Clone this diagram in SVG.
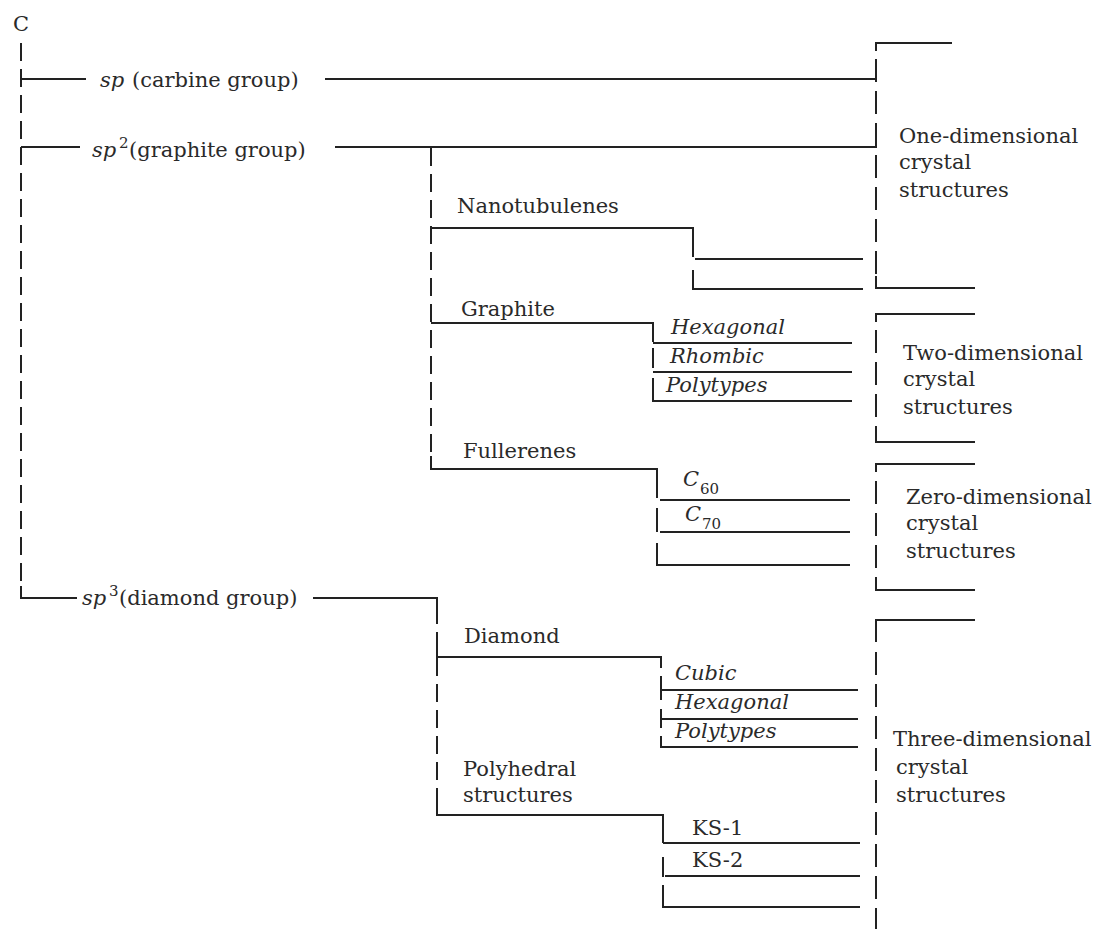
<svg xmlns="http://www.w3.org/2000/svg" width="1101" height="929" viewBox="0 0 1101 929">
<style>
text{font-family:"DejaVu Serif","Liberation Serif",serif;font-size:21px;fill:#2a2a2a}
.i{font-style:italic}
.sup{font-size:15px}
.sub{font-size:15px}
.l{fill:none;stroke:#222;stroke-width:2}
.d{fill:none;stroke:#222;stroke-width:2;stroke-dasharray:18 8}
.D{fill:none;stroke:#222;stroke-width:2;stroke-dasharray:23 9}
</style>
<rect width="1101" height="929" fill="#fff"/>
<g id="connectors">
<path class="d" d="M21 43 V588"/>
<path class="l" d="M21 586 V598 H77"/>
<path class="l" d="M21 79 H86"/>
<path class="l" d="M325 79 H877"/>
<path class="l" d="M21 147 H80"/>
<path class="l" d="M335 147 H877"/>
<path class="l" d="M313 598 H437 V606"/>
<path class="l" d="M952 43 H876 V51"/>
<path class="D" d="M876 59 V278"/>
<path class="l" d="M876 276 V288 H975"/>
<path class="d" d="M431 148 V460"/>
<path class="l" d="M431 228 H693 V257"/>
<path class="l" d="M693 270 V289 H863"/>
<path class="l" d="M695 259 H863"/>
<path class="l" d="M431 323 H653 V342"/>
<path class="l" d="M653 348 V368"/>
<path class="l" d="M653 378 V401 H852"/>
<path class="l" d="M653 343 H852"/>
<path class="l" d="M653 372 H852"/>
<path class="l" d="M431 456 V469 H657 V498"/>
<path class="l" d="M657 508 V532"/>
<path class="l" d="M657 543 V565 H850"/>
<path class="l" d="M660 500 H850"/>
<path class="l" d="M660 532 H850"/>
<path class="l" d="M975 314 H876 V322"/>
<path class="D" d="M876 330 V432"/>
<path class="l" d="M876 430 V442 H975"/>
<path class="l" d="M975 464 H876 V472"/>
<path class="D" d="M876 481 V580"/>
<path class="l" d="M876 578 V590 H975"/>
<path class="l" d="M975 620 H876 V642"/>
<path class="D" d="M876 652 V929"/>
<path class="d" d="M437 606 V805"/>
<path class="l" d="M437 804 V815 H663 V843"/>
<path class="l" d="M437 650 V657 H661 V668"/>
<path class="l" d="M661 676 V700"/>
<path class="l" d="M661 709 V728"/>
<path class="l" d="M661 736 V747 H858"/>
<path class="l" d="M661 690 H858"/>
<path class="l" d="M661 719 H858"/>
<path class="l" d="M663 843 H860"/>
<path class="l" d="M663 857 V877"/>
<path class="l" d="M663 885 V907 H860"/>
<path class="l" d="M665 876 H860"/>
</g>
<g id="node-C"><text x="13" y="31">C</text></g>
<g id="node-sp"><text x="100" y="87"><tspan class="i">sp</tspan><tspan x="132">(carbine group)</tspan></text></g>
<g id="node-sp2"><text x="92" y="157"><tspan class="i">sp</tspan><tspan class="sup" x="119" dy="-9">2</tspan><tspan x="129" dy="9">(graphite group)</tspan></text></g>
<g id="node-sp3"><text x="82" y="605"><tspan class="i">sp</tspan><tspan class="sup" x="109" dy="-9">3</tspan><tspan x="119" dy="9">(diamond group)</tspan></text></g>
<g id="node-nanotubulenes"><text x="457" y="213">Nanotubulenes</text></g>
<g id="node-graphite"><text x="461" y="316">Graphite</text></g>
<g id="node-g-hex"><text class="i" x="671" y="334">Hexagonal</text></g>
<g id="node-g-rho"><text class="i" x="670" y="363">Rhombic</text></g>
<g id="node-g-poly"><text class="i" x="666" y="392">Polytypes</text></g>
<g id="node-fullerenes"><text x="463" y="458">Fullerenes</text></g>
<g id="node-c60"><text x="683" y="486"><tspan class="i">C</tspan><tspan class="sub" x="700" y="494">60</tspan></text></g>
<g id="node-c70"><text x="685" y="521"><tspan class="i">C</tspan><tspan class="sub" x="702" y="529">70</tspan></text></g>
<g id="node-diamond"><text x="464" y="643">Diamond</text></g>
<g id="node-d-cubic"><text class="i" x="675" y="680">Cubic</text></g>
<g id="node-d-hex"><text class="i" x="675" y="709">Hexagonal</text></g>
<g id="node-d-poly"><text class="i" x="675" y="738">Polytypes</text></g>
<g id="node-polyhedral"><text x="463" y="776">Polyhedral</text><text x="463" y="802">structures</text></g>
<g id="node-ks1"><text x="692" y="835">KS-1</text></g>
<g id="node-ks2"><text x="692" y="867">KS-2</text></g>
<g id="node-1d"><text x="899" y="143">One-dimensional</text><text x="899" y="169">crystal</text><text x="899" y="197">structures</text></g>
<g id="node-2d"><text x="903" y="360">Two-dimensional</text><text x="903" y="386">crystal</text><text x="903" y="414">structures</text></g>
<g id="node-0d"><text x="906" y="504">Zero-dimensional</text><text x="906" y="530">crystal</text><text x="906" y="558">structures</text></g>
<g id="node-3d"><text x="893" y="746">Three-dimensional</text><text x="896" y="774">crystal</text><text x="896" y="802">structures</text></g>
</svg>
